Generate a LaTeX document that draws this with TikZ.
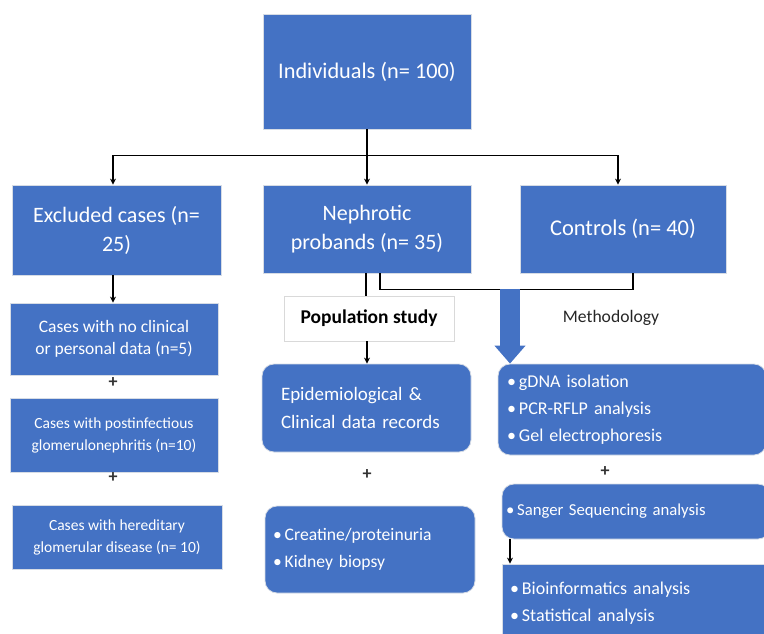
\documentclass[tikz,border=0pt]{standalone}
\usepackage{fontspec}
\setmainfont{Carlito}
\usepackage{xcolor}
\usetikzlibrary{arrows.meta,positioning}
\definecolor{boxblue}{HTML}{4472C4}
\definecolor{edgegray}{HTML}{D6DCE5}

\begin{document}
\begin{tikzpicture}[
      x=1pt, y=-1pt,
      box/.style={draw=edgegray, line width=0.8pt, fill=boxblue, text=white,
                  align=center, inner sep=2pt},
      rbox/.style={box, rounded corners=12pt},
      sign/.style={font=\fontsize{18}{18}\selectfont\bfseries, text=black!80, inner sep=0pt},
      conn/.style={line width=1.6pt, black},
      arr/.style={conn, -{Stealth[length=6pt,width=6pt]}},
      bigarr/.style={line width=20pt, boxblue, -{Triangle[length=18pt,width=30pt]}},
    ]
    \useasboundingbox (0,0) rectangle (764,633);

    % top and second row
    \node[box, minimum width=208pt, minimum height=115pt,
          font=\fontsize{22.3}{26}\selectfont] (ind) at (367,71.5) {Individuals (n= 100)};
    \node[box, minimum width=209pt, minimum height=90pt,
          font=\fontsize{22}{29}\selectfont] (excl) at (116.5,230) {Excluded cases (n=\\25)};
    \node[box, minimum width=208pt, minimum height=88pt,
          font=\fontsize{22}{29}\selectfont] (neph) at (367,229) {Nephrotic\\probands (n= 35)};
    \node[box, minimum width=206pt, minimum height=88pt,
          font=\fontsize{22.5}{26}\selectfont] (ctrl) at (623,229) {Controls (n= 40)};

    % excluded cases
    \node[box, minimum width=208pt, minimum height=72pt,
          font=\fontsize{17.5}{22}\selectfont] (c1) at (114,339) {Cases with no clinical\\or personal data (n=5)};
    \node[box, minimum width=208pt, minimum height=74pt,
          font=\fontsize{15.5}{22}\selectfont] (c2) at (114,435) {Cases with postinfectious\\glomerulonephritis (n=10)};
    \node[box, minimum width=210pt, minimum height=64pt,
          font=\fontsize{15.5}{22}\selectfont] (c3) at (117,537) {Cases with hereditary\\glomerular disease (n= 10)};
    \node[sign] (p1) at (113,383) {+};
    \node[sign] (p2) at (113,478) {+};

    % population study
    \node[draw=black!15, fill=white, minimum width=170pt, minimum height=45pt,
          font=\fontsize{19.5}{22}\selectfont\bfseries] (pop) at (369,318.5) {Population study};
    \node[rbox, minimum width=209pt, minimum height=88pt, align=left, text width=171pt,
          font=\fontsize{19}{28}\selectfont] (epi) at (366.5,408) {Epidemiological \&\\Clinical data records};
    \node[rbox, minimum width=210pt, minimum height=87pt, align=left, text width=194pt,
          font=\fontsize{17.6}{27}\selectfont] (cre) at (370,549.5)
          {\textbullet\,Creatine/proteinuria\\\textbullet\,Kidney biopsy};
    \node[sign] (p3) at (367,475) {+};

    % methodology
    \node[font=\fontsize{17.6}{20}\selectfont, text=black!85] (meth) at (611,318) {Methodology};
    \node[rbox, minimum width=268pt, minimum height=91pt, align=left, text width=250pt,
          font=\fontsize{18}{27}\selectfont] (gdna) at (632,409.5)
          {\textbullet\,gDNA isolation\\\textbullet\,PCR-RFLP analysis\\\textbullet\,Gel electrophoresis};
    \node[rbox, minimum width=268pt, minimum height=55pt, align=left, text width=260pt,
          font=\fontsize{16.7}{20}\selectfont] (sang) at (636,511.5)
          {\textbullet\,Sanger Sequencing analysis};
    \node[box, minimum width=268pt, minimum height=78pt, align=left, text width=252pt,
          font=\fontsize{18}{27}\selectfont] (bio) at (636,603)
          {\textbullet\,Bioinformatics analysis\\\textbullet\,Statistical analysis\\[10pt]};
    \node[sign] (p4) at (605,472) {+};

    % connectors
    \draw[conn] (ind.south) -- ++(0,26) coordinate (split);
    \draw[conn] (split -| 113,0) -- (split -| 618,0);
    \draw[arr] (split -| 113,0) -- (excl.north -| 113,0);
    \draw[arr] (split) -- (neph.north);
    \draw[arr] (split -| 618,0) -- (ctrl.north -| 618,0);
    \draw[arr] (excl.south -| 113,0) -- (c1.north -| 113,0);
    \draw[conn] (neph.south -| 366,0) -- (pop.north -| 366,0);
    \draw[arr] (pop.south -| 367,0) -- (epi.north -| 367,0);
    \draw[conn, line width=1.2pt] (neph.south -| 380,0) -- ++(0,16) coordinate (brk)
        -| (ctrl.south -| 633,0);
    \draw[bigarr] (brk -| 510,0) -- (gdna.north -| 510,0);
    \draw[arr] (sang.south -| 510,0) -- (bio.north -| 510,0);
\end{tikzpicture}
\end{document}
